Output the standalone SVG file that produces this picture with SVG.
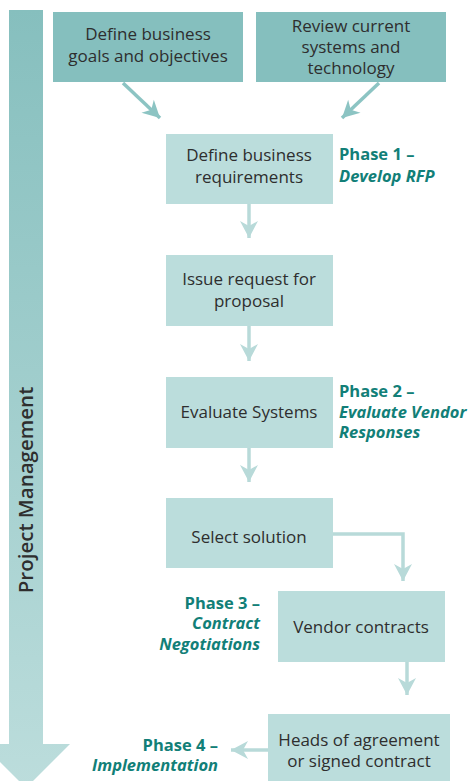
<svg xmlns="http://www.w3.org/2000/svg" width="469" height="781" viewBox="0 0 469 781">
<style>
.dk{fill:#85bfbe}
.lt{fill:#bbdddc}
.t{font-family:"Open Sans","Noto Sans",sans-serif;font-size:17px;fill:#2e2e2e;text-anchor:middle}
.ph{font-family:"Open Sans","Noto Sans",sans-serif;font-size:16.5px;font-weight:bold;fill:#127f78}
.it{font-style:italic}
.cd{fill:none;stroke:#8cc4c3;stroke-width:3.5}
.cl{fill:none;stroke:#b8dad9;stroke-width:3.5}
</style>
<defs>
<linearGradient id="pg" x1="0" y1="0" x2="0" y2="1">
<stop offset="0" stop-color="#86bfbe"/>
<stop offset="1" stop-color="#bcdddc"/>
</linearGradient>
<marker id="md" markerUnits="userSpaceOnUse" viewBox="-18 -10 20 20" refX="0" refY="0" markerWidth="20" markerHeight="20" orient="auto">
<path d="M-17,-9 L0,0 L-17,9 L-12,0 z" fill="#8cc4c3"/>
</marker>
<marker id="ml" markerUnits="userSpaceOnUse" viewBox="-18 -10 20 20" refX="0" refY="0" markerWidth="20" markerHeight="20" orient="auto">
<path d="M-17,-9 L0,0 L-17,9 L-12,0 z" fill="#b8dad9"/>
</marker>
</defs>
<g id="pm">
<path d="M9,10 H43 V744 H70 L26,788 L-18,744 H9 Z" fill="url(#pg)"/>
<text transform="translate(33,490) rotate(-90)" style="font-family:'Open Sans','Noto Sans',sans-serif;font-size:20.5px;font-weight:600;fill:#2e2e2e;text-anchor:middle">Project Management</text>
</g>
<g id="connectors">
<path class="cd" d="M123,83 L160,118" marker-end="url(#md)"/>
<path class="cd" d="M379,83 L342,118" marker-end="url(#md)"/>
<path class="cl" d="M249,204 V238" marker-end="url(#ml)"/>
<path class="cl" d="M249,326 V361" marker-end="url(#ml)"/>
<path class="cl" d="M249,448 V482" marker-end="url(#ml)"/>
<path class="cl" d="M333,534 H403 V581" marker-end="url(#ml)"/>
<path class="cl" d="M407,662 V695" marker-end="url(#ml)"/>
<path class="cl" d="M268,750 H231" marker-end="url(#ml)"/>
</g>
<g id="n1">
<rect class="dk" x="53" y="12" width="190" height="70"/>
<text class="t" x="148" y="40">Define business</text>
<text class="t" x="148" y="62">goals and objectives</text>
</g>
<g id="n2">
<rect class="dk" x="256" y="12" width="190" height="70"/>
<text class="t" x="351" y="32">Review current</text>
<text class="t" x="351" y="53">systems and</text>
<text class="t" x="351" y="74">technology</text>
</g>
<g id="n3">
<rect class="lt" x="166" y="134" width="167" height="70"/>
<text class="t" x="249" y="161">Define business</text>
<text class="t" x="249" y="183">requirements</text>
</g>
<g id="n4">
<rect class="lt" x="166" y="255" width="167" height="71"/>
<text class="t" x="249" y="285">Issue request for</text>
<text class="t" x="249" y="307">proposal</text>
</g>
<g id="n5">
<rect class="lt" x="166" y="377" width="167" height="71"/>
<text class="t" x="249" y="418">Evaluate Systems</text>
</g>
<g id="n6">
<rect class="lt" x="166" y="498" width="167" height="70"/>
<text class="t" x="249" y="543">Select solution</text>
</g>
<g id="n7">
<rect class="lt" x="278" y="591" width="167" height="71"/>
<text class="t" x="361" y="633">Vendor contracts</text>
</g>
<g id="n8">
<rect class="lt" x="268" y="714" width="182" height="72"/>
<text class="t" x="359" y="746">Heads of agreement</text>
<text class="t" x="359" y="767">or signed contract</text>
</g>
<g id="p1">
<text class="ph" x="339" y="160">Phase 1 –</text>
<text class="ph it" x="339" y="182">Develop RFP</text>
</g>
<g id="p2">
<text class="ph" x="339" y="397">Phase 2 –</text>
<text class="ph it" x="339" y="418">Evaluate Vendor</text>
<text class="ph it" x="339" y="438">Responses</text>
</g>
<g id="p3">
<text class="ph" x="260" y="609" text-anchor="end">Phase 3 –</text>
<text class="ph it" x="260" y="629" text-anchor="end">Contract</text>
<text class="ph it" x="260" y="650" text-anchor="end">Negotiations</text>
</g>
<g id="p4">
<text class="ph" x="218" y="751" text-anchor="end">Phase 4 –</text>
<text class="ph it" x="218" y="771" text-anchor="end">Implementation</text>
</g>
</svg>
